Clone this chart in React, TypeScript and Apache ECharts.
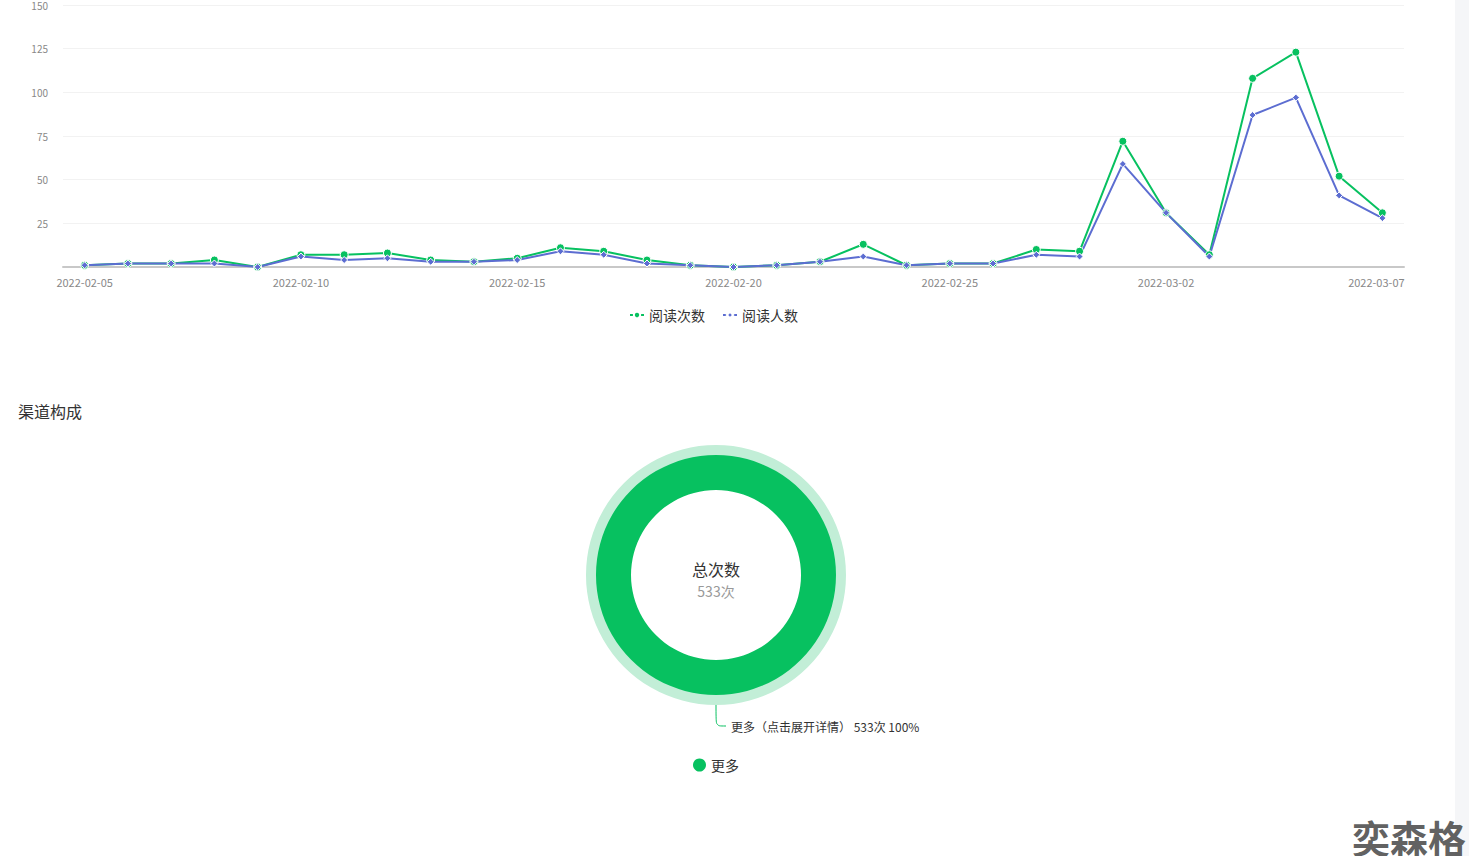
import React, { useEffect, useRef } from "react";
import * as echarts from "echarts";

const dates = [
  "2022-02-05", "2022-02-06", "2022-02-07", "2022-02-08", "2022-02-09", "2022-02-10",
  "2022-02-11", "2022-02-12", "2022-02-13", "2022-02-14", "2022-02-15", "2022-02-16",
  "2022-02-17", "2022-02-18", "2022-02-19", "2022-02-20", "2022-02-21", "2022-02-22",
  "2022-02-23", "2022-02-24", "2022-02-25", "2022-02-26", "2022-02-27", "2022-02-28",
  "2022-03-01", "2022-03-02", "2022-03-03", "2022-03-04", "2022-03-05", "2022-03-06",
  "2022-03-07",
];
const readCount = [1, 2, 2, 4, 0, 7, 7, 8, 4, 3, 5, 11, 9, 4, 1, 0, 1, 3, 13, 1, 2, 2, 10, 9, 72, 31, 7, 108, 123, 52, 31];
const readUsers = [1, 2, 2, 2, 0, 6, 4, 5, 3, 3, 4, 9, 7, 2, 1, 0, 1, 3, 6, 1, 2, 2, 7, 6, 59, 31, 6, 87, 97, 41, 28];
const seriesNames = ["阅读次数", "阅读人数"];
const channelName = "更多";
const channelValue = 533;
const yTicks = { min: 0, max: 150, interval: 25 };

const GREEN = "#07c160";
const BLUE = "#5c6dd1";
const FONT = "'Noto Sans CJK SC', sans-serif";

export default function App() {
  const ref = useRef<HTMLDivElement>(null);
  useEffect(() => {
    if (!ref.current) return;
    const chart = echarts.init(ref.current, null, { renderer: "svg" });
    const total = channelValue;
    const lastDate = dates[dates.length - 1];
    chart.setOption({
      animation: false,
      textStyle: { fontFamily: FONT },
      legend: [
        {
          data: seriesNames,
          top: 303,
          left: 624,
          itemGap: 17,
          itemWidth: 14,
          itemHeight: 8,
          textStyle: { fontSize: 14, color: "#333", fontFamily: FONT },
        },
        {
          data: [channelName],
          top: 753,
          left: 688,
          icon: "circle",
          itemWidth: 13,
          itemHeight: 13,
          itemGap: 5,
          textStyle: { fontSize: 14, color: "#333", fontFamily: FONT },
        },
      ],
      grid: { left: 63, top: 5, width: 1341, height: 262 },
      xAxis: {
        type: "category",
        data: dates,
        boundaryGap: true,
        axisTick: { show: false },
        axisLine: { lineStyle: { color: "#c8c8c8", width: 2 } },
        axisLabel: {
          interval: 4,
          color: "#888",
          fontSize: 11,
          margin: 9,
          fontFamily: FONT,
          formatter: (v: string) => (v === lastDate ? `{last|${v}}` : v),
          rich: { last: { color: "#888", fontSize: 11, fontFamily: FONT, padding: [0, 12, 0, 0] } },
        },
      },
      yAxis: {
        type: "value",
        min: yTicks.min,
        max: yTicks.max,
        interval: yTicks.interval,
        axisLine: { show: false },
        axisTick: { show: false },
        axisLabel: {
          color: "#888",
          fontSize: 10,
          margin: 15,
          fontFamily: FONT,
          formatter: (v: number) => (v === 0 ? "" : String(v)),
        },
        splitLine: { lineStyle: { color: "#f2f2f2" } },
      },
      series: [
        {
          name: seriesNames[0],
          type: "line",
          data: readCount,
          symbol: "circle",
          symbolSize: 8,
          itemStyle: { color: GREEN, borderColor: "#fff", borderWidth: 1 },
          lineStyle: { color: GREEN, width: 2 },
        },
        {
          name: seriesNames[1],
          type: "line",
          data: readUsers,
          symbol: "diamond",
          symbolSize: 7,
          itemStyle: { color: BLUE, borderColor: "#fff", borderWidth: 1 },
          lineStyle: { color: BLUE, width: 2 },
        },
        {
          name: "bg",
          type: "pie",
          center: [716, 575],
          radius: [119, 130],
          silent: true,
          label: { show: false },
          labelLine: { show: false },
          itemStyle: { color: "#c2eed7" },
          data: [{ name: "bgring", value: total }],
        },
        {
          name: "渠道构成",
          type: "pie",
          center: [716, 575],
          radius: [85, 120],
          startAngle: 90,
          itemStyle: { color: GREEN },
          label: {
            show: true,
            position: "outside",
            color: "#333",
            fontSize: 12,
            fontFamily: FONT,
            formatter: (p: any) => `${p.name}（点击展开详情） ${p.value}次 ${Math.round(p.percent)}%`,
          },
          labelLine: { show: true, length: 31, length2: 10, smooth: true, lineStyle: { color: GREEN } },
          data: [{ name: channelName, value: channelValue }],
        },
      ],
      graphic: [
        {
          type: "text",
          left: 18,
          top: 403,
          style: { text: "渠道构成", fontSize: 16, fill: "#333", fontFamily: FONT },
        },
        {
          type: "text",
          x: 716,
          y: 569,
          style: { text: "总次数", fontSize: 16, fill: "#333", fontFamily: FONT, align: "center", verticalAlign: "middle" },
        },
        {
          type: "text",
          x: 716,
          y: 591,
          style: { text: `${total}次`, fontSize: 14, fill: "#999", fontFamily: FONT, align: "center", verticalAlign: "middle" },
        },
        {
          type: "text",
          x: 1352,
          y: 817,
          z: 100,
          style: { text: "奕森格", fontSize: 38, fontWeight: "bold", fill: "rgba(70,70,70,0.85)", fontFamily: FONT },
        },
      ],
    });
    return () => chart.dispose();
  }, []);
  return (
    <div style={{ position: "fixed", left: 0, top: 0, width: 1469, height: 856, background: "#fff" }}>
      <div style={{ position: "absolute", left: 1455, top: 0, width: 14, height: 856, background: "#f5f6f8" }} />
      <div ref={ref} style={{ position: "absolute", left: 0, top: 0, width: 1469, height: 856 }} />
    </div>
  );
}
